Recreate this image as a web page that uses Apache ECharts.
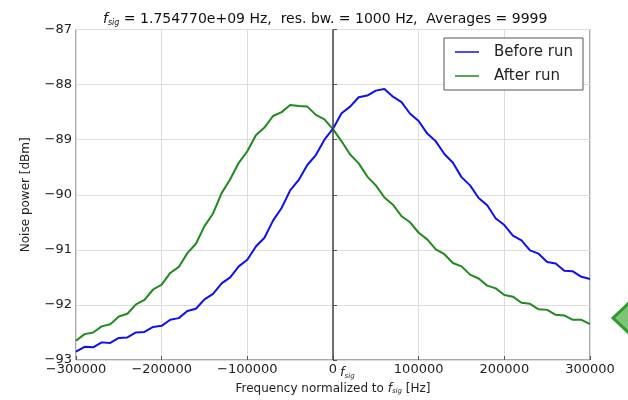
<!DOCTYPE html>
<html>
<head>
<meta charset="utf-8">
<script src="https://cdn.jsdelivr.net/npm/echarts@6/dist/echarts.min.js"></script>
<style>
    html, body { margin: 0; padding: 0; background: #fff; }
    #chart { width: 628px; height: 400px; }
</style>
</head>
<body>
<div id="chart"></div>
<script>
// Frequency offsets [Hz]
var freqs = [
    -300000, -290000, -280000, -270000, -260000, -250000, -240000, -230000, -220000, -210000,
    -200000, -190000, -180000, -170000, -160000, -150000, -140000, -130000, -120000, -110000,
    -100000, -90000, -80000, -70000, -60000, -50000, -40000, -30000, -20000, -10000,
    0,
    10000, 20000, 30000, 40000, 50000, 60000, 70000, 80000, 90000, 100000,
    110000, 120000, 130000, 140000, 150000, 160000, 170000, 180000, 190000, 200000,
    210000, 220000, 230000, 240000, 250000, 260000, 270000, 280000, 290000, 300000
];

// Noise power [dBm]
var beforeRun = [
    -92.85, -92.76, -92.77, -92.68, -92.69, -92.60, -92.59, -92.50, -92.49, -92.40,
    -92.38, -92.27, -92.24, -92.11, -92.07, -91.90, -91.80, -91.61, -91.50, -91.30,
    -91.18, -90.94, -90.78, -90.47, -90.24, -89.92, -89.73, -89.46, -89.28, -89.00,
    -88.80,
    -88.52, -88.40, -88.23, -88.20, -88.11, -88.08, -88.22, -88.32, -88.53, -88.66,
    -88.89, -89.03, -89.26, -89.42, -89.68, -89.83, -90.06, -90.19, -90.43, -90.55,
    -90.74, -90.83, -91.01, -91.07, -91.22, -91.25, -91.38, -91.39, -91.49, -91.53
];

var afterRun = [
    -92.65, -92.53, -92.50, -92.39, -92.35, -92.21, -92.16, -91.99, -91.91, -91.72,
    -91.63, -91.42, -91.31, -91.06, -90.89, -90.57, -90.34, -89.97, -89.72, -89.42,
    -89.21, -88.92, -88.78, -88.57, -88.50, -88.37, -88.39, -88.40, -88.55, -88.63,
    -88.81,
    -89.03, -89.27, -89.43, -89.67, -89.83, -90.05, -90.18, -90.39, -90.50, -90.69,
    -90.81, -90.99, -91.08, -91.24, -91.30, -91.45, -91.52, -91.65, -91.70, -91.82,
    -91.85, -91.96, -91.98, -92.08, -92.09, -92.18, -92.19, -92.27, -92.27, -92.35
];

var seriesNames = ['Before run', 'After run'];

var font = 'DejaVu Sans';

function minus(v) {
    return v < 0 ? '\u2212' + Math.abs(v) : String(v);
}

var chart = echarts.init(document.getElementById('chart'));
var option = {
    animation: false,
    backgroundColor: '#fff',
    title: {
        text: '{i|f}{s|sig} = 1.754770e+09 Hz,  res. bw. = 1000 Hz,  Averages = 9999',
        left: 98,
        top: 7,
        textStyle: {
            fontFamily: font,
            fontSize: 14,
            fontWeight: 'normal',
            color: '#111',
            rich: {
                i: { fontStyle: 'italic', fontFamily: font, fontSize: 14, color: '#111' },
                s: { fontSize: 8, fontStyle: 'italic', fontFamily: font, color: '#111', padding: [7, 0, 0, 0] }
            }
        }
    },
    legend: {
        data: seriesNames,
        orient: 'vertical',
        right: 45,
        top: 38,
        padding: [6, 10, 6, 11],
        itemGap: 8,
        itemWidth: 24,
        itemHeight: 1.5,
        icon: 'rect',
        borderColor: '#555',
        borderWidth: 1,
        backgroundColor: '#fff',
        textStyle: { fontFamily: font, fontSize: 15, color: '#222', padding: [0, 0, 0, 10], lineHeight: 16 }
    },
    grid: {
        left: 76,
        right: 38,
        top: 29.5,
        bottom: 36,
        show: true,
        borderColor: '#555',
        borderWidth: 1
    },
    xAxis: {
        type: 'value',
        min: -300000,
        max: 300000,
        interval: 100000,
        name: 'Frequency normalized to {i|f}{s|sig} [Hz]',
        nameLocation: 'middle',
        nameGap: 22,
        nameTextStyle: {
            fontFamily: font,
            fontSize: 12,
            color: '#222',
            rich: {
                i: { fontStyle: 'italic', fontFamily: font, fontSize: 12, color: '#222' },
                s: { fontSize: 7, fontStyle: 'italic', fontFamily: font, color: '#222', padding: [6, 0, 0, 0] }
            }
        },
        axisLine: { show: false },
        axisTick: { inside: true, length: 4, lineStyle: { color: '#555' } },
        axisLabel: {
            fontFamily: font,
            fontSize: 13,
            color: '#222',
            margin: 3,
            formatter: minus
        },
        splitLine: { show: true, lineStyle: { color: '#ddd', type: 'solid', width: 1 } }
    },
    yAxis: {
        type: 'value',
        min: -93,
        max: -87,
        interval: 1,
        name: 'Noise power [dBm]',
        nameLocation: 'middle',
        nameGap: 44,
        nameTextStyle: { fontFamily: font, fontSize: 12, color: '#222' },
        axisLine: { show: false },
        axisTick: { inside: true, length: 4, lineStyle: { color: '#555' } },
        axisLabel: {
            fontFamily: font,
            fontSize: 13,
            color: '#222',
            margin: 4,
            formatter: minus
        },
        splitLine: { show: true, lineStyle: { color: '#ddd', type: 'solid', width: 1 } }
    },
    series: [
        {
            name: seriesNames[0],
            type: 'line',
            symbol: 'none',
            color: '#1010ee',
            lineStyle: { width: 2 },
            data: freqs.map(function (f, i) { return [f, beforeRun[i]]; }),
            markLine: {
                silent: true,
                symbol: 'none',
                label: { show: false },
                lineStyle: { color: '#444', type: 'solid', width: 1.5 },
                data: [{ xAxis: 0 }]
            },
            z: 3
        },
        {
            name: seriesNames[1],
            type: 'line',
            symbol: 'none',
            color: '#1f8a1f',
            lineStyle: { width: 2 },
            data: freqs.map(function (f, i) { return [f, afterRun[i]]; }),
            z: 2
        }
    ],
    graphic: [
        {
            type: 'text',
            left: 340,
            top: 366,
            style: {
                text: '{i|f}{s|sig}',
                rich: {
                    i: { fontStyle: 'italic', fontFamily: font, fontSize: 13, fill: '#222' },
                    s: { fontStyle: 'italic', fontFamily: font, fontSize: 7, fill: '#222', padding: [7, 0, 0, 0] }
                }
            }
        },
        {
            type: 'polygon',
            shape: { points: [[613, 318], [630, 302], [647, 318], [630, 334]] },
            style: { fill: '#7cc576', stroke: '#2f9a2f', lineWidth: 3 }
        }
    ]
};
chart.setOption(option);
</script>
</body>
</html>
